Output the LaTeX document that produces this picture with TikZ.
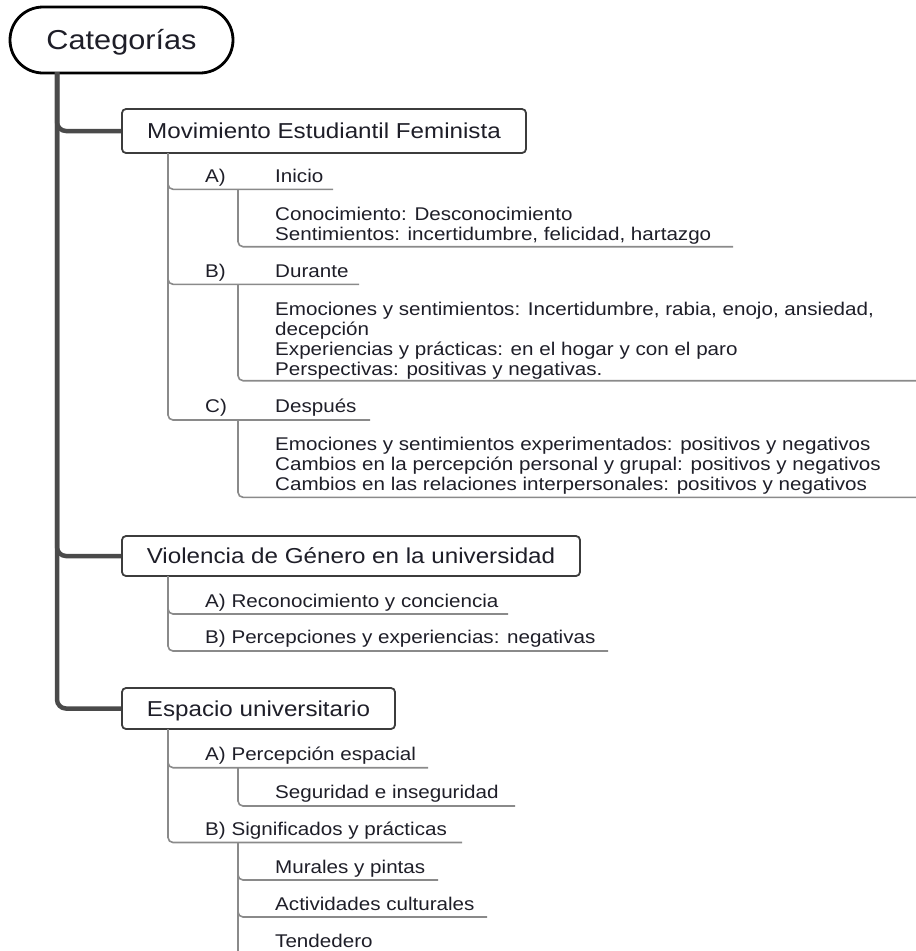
\documentclass[tikz,border=0pt]{standalone}
\usepackage{fontspec}
\setmainfont{Liberation Sans}[FakeStretch=1.12]
\definecolor{tc}{HTML}{1E1E28}
\definecolor{bc}{HTML}{3C3C3C}
\definecolor{trc}{HTML}{4A4A4A}
\definecolor{lc}{HTML}{8A8A8A}
\tikzset{
  txt/.style={anchor=base west, inner sep=0pt, text=tc, font=\fontsize{18.4}{20}\selectfont},
  mainbox/.style={draw=bc, line width=1.8pt, rounded corners=4pt, fill=white, inner sep=0pt,
    text height=15.5pt, text depth=0pt, font=\fontsize{21.6}{24}\selectfont, text=tc},
  rootbox/.style={draw=black, line width=2.8pt, rounded corners=33pt, fill=white, inner sep=0pt,
    minimum width=223pt, minimum height=66pt, text height=19.6pt, text depth=0pt,
    font=\fontsize{27.4}{30}\selectfont, text=tc},
  trunk/.style={draw=trc, line width=4.5pt, rounded corners=9pt},
  subline/.style={draw=lc, line width=1.6pt, rounded corners=5pt},
}
\begin{document}
\begin{tikzpicture}[x=1pt,y=-1pt]
\useasboundingbox (0,0) rectangle (916,951);

% root
\node[rootbox] (root) at (121.5,40) {Categorías};
\coordinate (rt) at (57,72);

% main boxes
\node[mainbox, minimum width=404pt, minimum height=44pt] (mov) at (324,131) {Movimiento Estudiantil Feminista};
\node[mainbox, minimum width=458pt, minimum height=40pt] (vio) at (351,556) {Violencia de Género en la universidad};
\node[mainbox, minimum width=273pt, minimum height=41pt] (esp) at (258.5,708.5) {Espacio universitario};

% trunk
\draw[trunk] (rt) |- (mov.west);
\draw[trunk] (rt) |- (vio.west);
\draw[trunk] (rt) |- (esp.west);

% ---------- Movimiento ----------
\coordinate (mv) at (168,153);
\node[txt] (ma) at (205,182) {A)};
\node[txt] (mai) at (275,182) {Inicio};
\coordinate (mae) at (333,189.3);
\draw[subline] (mv) |- (mae);
\coordinate (mal) at (238,189.3);
\node[txt] (ma1) at (275,220) {Conocimiento: Desconocimiento};
\node[txt] (ma2) at (275,240) {Sentimientos: incertidumbre, felicidad, hartazgo};
\coordinate (male) at (733,246.7);
\draw[subline] (mal) |- (male);

\node[txt] (mb) at (205,277) {B)};
\node[txt] (mbd) at (275,277) {Durante};
\coordinate (mbe) at (359,284.3);
\draw[subline] (mv) |- (mbe);
\coordinate (mbl) at (238,284.3);
\node[txt] (mb1) at (275,315) {Emociones y sentimientos: Incertidumbre, rabia, enojo, ansiedad,};
\node[txt] (mb2) at (275,335) {decepción};
\node[txt] (mb3) at (275,355) {Experiencias y prácticas: en el hogar y con el paro};
\node[txt] (mb4) at (275,375) {Perspectivas: positivas y negativas.};
\coordinate (mble) at (918,380.7);
\draw[subline] (mbl) |- (mble);

\node[txt] (mc) at (205,412.7) {C)};
\node[txt] (mcd) at (275,412.7) {Después};
\coordinate (mce) at (370,420);
\draw[subline] (mv) |- (mce);
\coordinate (mcl) at (238,420);
\node[txt] (mc1) at (275,450) {Emociones y sentimientos experimentados: positivos y negativos};
\node[txt] (mc2) at (275,470) {Cambios en la percepción personal y grupal: positivos y negativos};
\node[txt] (mc3) at (275,490) {Cambios en las relaciones interpersonales: positivos y negativos};
\coordinate (mcle) at (918,497.3);
\draw[subline] (mcl) |- (mcle);

% ---------- Violencia ----------
\coordinate (vv) at (168,576);
\node[txt] (va) at (205,607) {A) Reconocimiento y conciencia};
\coordinate (vae) at (508,614);
\draw[subline] (vv) |- (vae);
\node[txt] (vb) at (205,643) {B) Percepciones y experiencias: negativas};
\coordinate (vbe) at (608,651);
\draw[subline] (vv) |- (vbe);

% ---------- Espacio ----------
\coordinate (ev) at (168,729);
\node[txt] (ea) at (205,760) {A) Percepción espacial};
\coordinate (eae) at (428,767.7);
\draw[subline] (ev) |- (eae);
\coordinate (eal) at (238,767.7);
\node[txt] (ea1) at (275,798.5) {Seguridad e inseguridad};
\coordinate (ea1e) at (515,806);
\draw[subline] (eal) |- (ea1e);

\node[txt] (eb) at (205,835) {B) Significados y prácticas};
\coordinate (ebe) at (462,842.5);
\draw[subline] (ev) |- (ebe);
\coordinate (ebl) at (238,842.5);
\node[txt] (eb1) at (275,873) {Murales y pintas};
\coordinate (eb1e) at (438,880);
\draw[subline] (ebl) |- (eb1e);
\node[txt] (eb2) at (275,910) {Actividades culturales};
\coordinate (eb2e) at (487,917);
\draw[subline] (ebl) |- (eb2e);
\node[txt] (eb3) at (275,947) {Tendedero};
\coordinate (eb3e) at (238,960);
\draw[subline] (ebl) -- (eb3e);
\end{tikzpicture}
\end{document}
